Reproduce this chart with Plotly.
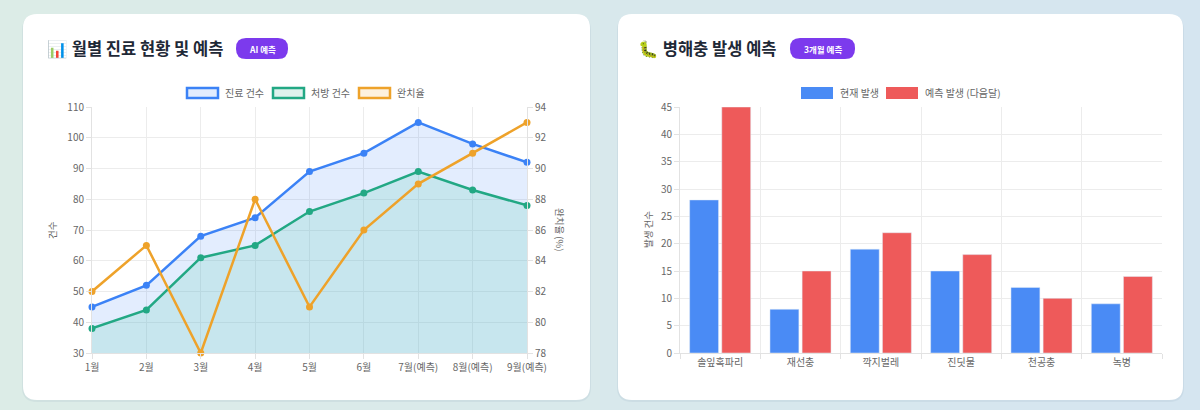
import plotly.graph_objects as go

# ---- data ----
months = ["1월", "2월", "3월", "4월", "5월", "6월", "7월(예측)", "8월(예측)", "9월(예측)"]
visits = [45, 52, 68, 74, 89, 95, 105, 98, 92]
prescriptions = [38, 44, 61, 65, 76, 82, 89, 83, 78]
cure_rate = [82, 85, 78, 88, 81, 86, 89, 91, 93]

pests = ["솔잎혹파리", "재선충", "깍지벌레", "진딧물", "천공충", "녹병"]
pest_now = [28, 8, 19, 15, 12, 9]
pest_next = [45, 15, 22, 18, 10, 14]

W, H = 1200, 410
FONT = "Noto Sans CJK KR, Noto Sans, sans-serif"
BLUE = "#3b82f6"
GREEN = "#22a884"
ORANGE = "#eea22a"


def px(x):
    return x / W


def py(y):
    return 1 - y / H


def rounded_rect(x0, y0, x1, y1, r):
    # pixel coords -> paper path with rounded corners
    rx, ry = r / W, r / H
    a, b, c, d = px(x0), py(y1), px(x1), py(y0)
    return (f"M {a+rx},{b} L {c-rx},{b} Q {c},{b} {c},{b+ry} "
            f"L {c},{d-ry} Q {c},{d} {c-rx},{d} L {a+rx},{d} "
            f"Q {a},{d} {a},{d-ry} L {a},{b+ry} Q {a},{b} {a+rx},{b} Z")


fig = go.Figure()

# line chart
fig.add_trace(go.Scatter(
    x=months, y=visits, name="진료 건수", mode="lines+markers",
    line=dict(color=BLUE, width=2.5), marker=dict(size=7, color=BLUE),
    fill="tozeroy", fillcolor="rgba(59,130,246,0.14)", cliponaxis=False,
    xaxis="x", yaxis="y"))
fig.add_trace(go.Scatter(
    x=months, y=prescriptions, name="처방 건수", mode="lines+markers",
    line=dict(color=GREEN, width=2.5), marker=dict(size=7, color=GREEN),
    fill="tozeroy", fillcolor="rgba(112,208,190,0.24)", cliponaxis=False,
    xaxis="x", yaxis="y"))
fig.add_trace(go.Scatter(
    x=months, y=cure_rate, name="완치율", mode="lines+markers",
    line=dict(color=ORANGE, width=2.5), marker=dict(size=7, color=ORANGE),
    cliponaxis=False, xaxis="x", yaxis="y2"))

# bar chart
fig.add_trace(go.Bar(
    x=pests, y=pest_now, name="현재 발생", marker_color="#4a8bf5",
    xaxis="x2", yaxis="y3"))
fig.add_trace(go.Bar(
    x=pests, y=pest_next, name="예측 발생 (다음달)", marker_color="#ee5a5a",
    xaxis="x2", yaxis="y3"))

tick_font = dict(family=FONT, size=10, color="#666666")
grid = "#ececec"
axis_common = dict(tickfont=tick_font, gridcolor=grid, showline=True,
                   linecolor="#e2e2e2", ticks="outside", ticklen=5,
                   tickcolor="#e2e2e2", zeroline=False)

ydom = [py(353), py(107)]

fig.update_layout(
    width=W, height=H, margin=dict(l=0, r=0, t=0, b=0, autoexpand=False),
    paper_bgcolor="#d9e8ec", plot_bgcolor="rgba(0,0,0,0)",
    showlegend=False, bargap=0.2, bargroupgap=0.1,
    font=dict(family=FONT),
    xaxis=dict(domain=[px(92), px(527)], type="category", range=[0, 8],
               **axis_common),
    yaxis=dict(domain=ydom, range=[30, 110], dtick=10, **axis_common),
    yaxis2=dict(overlaying="y", side="right", range=[78, 94], dtick=2,
                tickfont=tick_font, showgrid=False, showline=True,
                linecolor="#e2e2e2", ticks="outside", ticklen=5,
                tickcolor="#e2e2e2", zeroline=False),
    xaxis2=dict(domain=[px(680), px(1162)], anchor="y3", type="category",
                tickson="boundaries", **axis_common),
    yaxis3=dict(domain=ydom, anchor="x2", range=[0, 45], dtick=5,
                **axis_common),
)

shapes = []
annotations = []

# background: soft green -> blue gradient in strips
n = 30
c0, c1 = (220, 236, 231), (213, 229, 240)
for i in range(n):
    t = i / (n - 1)
    col = tuple(round(c0[k] + (c1[k] - c0[k]) * t) for k in range(3))
    shapes.append(dict(type="rect", xref="paper", yref="paper",
                       x0=i / n, x1=(i + 1) / n + 0.001, y0=0, y1=1,
                       fillcolor="rgb(%d,%d,%d)" % col, line=dict(width=0),
                       layer="below"))

# cards (faint shadow + white body)
for x0, x1 in [(23, 590), (618, 1183)]:
    shapes.append(dict(type="path", path=rounded_rect(x0 - 1, 15, x1 + 1, 402, 15),
                       xref="paper", yref="paper",
                       fillcolor="rgba(120,150,170,0.12)",
                       line=dict(width=0), layer="below"))
    shapes.append(dict(type="path", path=rounded_rect(x0, 14, x1, 400, 14),
                       xref="paper", yref="paper", fillcolor="white",
                       line=dict(width=0), layer="below"))

# titles and badges
titles = [(45, "📊 월별 진료 현황 및 예측", 236, 288, "AI 예측"),
          (636, "🐛 병해충 발생 예측", 790, 855, "3개월 예측")]
for tx, text, bx0, bx1, badge in titles:
    annotations.append(dict(x=px(tx), y=py(48), xref="paper", yref="paper",
                            text=f"<b>{text}</b>", showarrow=False,
                            xanchor="left", yanchor="middle",
                            font=dict(family=FONT, size=16.5, color="#1f2937")))
    shapes.append(dict(type="path", path=rounded_rect(bx0, 38, bx1, 59, 10),
                       xref="paper", yref="paper", fillcolor="#7c3aed",
                       line=dict(width=0)))
    annotations.append(dict(x=px((bx0 + bx1) / 2), y=py(48.5), xref="paper",
                            yref="paper", text=f"<b>{badge}</b>",
                            showarrow=False, xanchor="center", yanchor="middle",
                            font=dict(family=FONT, size=8.5, color="white")))

# custom legends
line_legend = [(187, "진료 건수", BLUE, "rgba(59,130,246,0.15)"),
               (273, "처방 건수", GREEN, "rgba(34,168,132,0.15)"),
               (359, "완치율", ORANGE, "rgba(240,160,32,0.15)")]
for lx, name, col, fillc in line_legend:
    shapes.append(dict(type="rect", xref="paper", yref="paper",
                       x0=px(lx), x1=px(lx + 31), y0=py(98), y1=py(88),
                       fillcolor=fillc, line=dict(color=col, width=2.5)))
    annotations.append(dict(x=px(lx + 36), y=py(93), xref="paper",
                            yref="paper", text=name, showarrow=False,
                            xanchor="left", yanchor="middle",
                            font=dict(family=FONT, size=10, color="#666666")))

bar_legend = [(801, "현재 발생", "#4a8bf5"), (886, "예측 발생 (다음달)", "#ee5a5a")]
for lx, name, col in bar_legend:
    shapes.append(dict(type="rect", xref="paper", yref="paper",
                       x0=px(lx), x1=px(lx + 32), y0=py(99), y1=py(87),
                       fillcolor=col, line=dict(width=0)))
    annotations.append(dict(x=px(lx + 37), y=py(93), xref="paper",
                            yref="paper", text=name, showarrow=False,
                            xanchor="left", yanchor="middle",
                            font=dict(family=FONT, size=10, color="#666666")))

# axis titles
axis_titles = [(52, "건수", -90), (560, "완치율 (%)", 90), (648, "발생 건수", -90)]
for ax, text, ang in axis_titles:
    annotations.append(dict(x=px(ax), y=py(230), xref="paper", yref="paper",
                            text=text, showarrow=False, textangle=ang,
                            xanchor="center", yanchor="middle",
                            font=dict(family=FONT, size=9.5, color="#666666")))

fig.update_layout(shapes=shapes, annotations=annotations)

fig.write_html("out.html", config={"displayModeBar": False},
               post_script="document.body.style.margin='0';")
